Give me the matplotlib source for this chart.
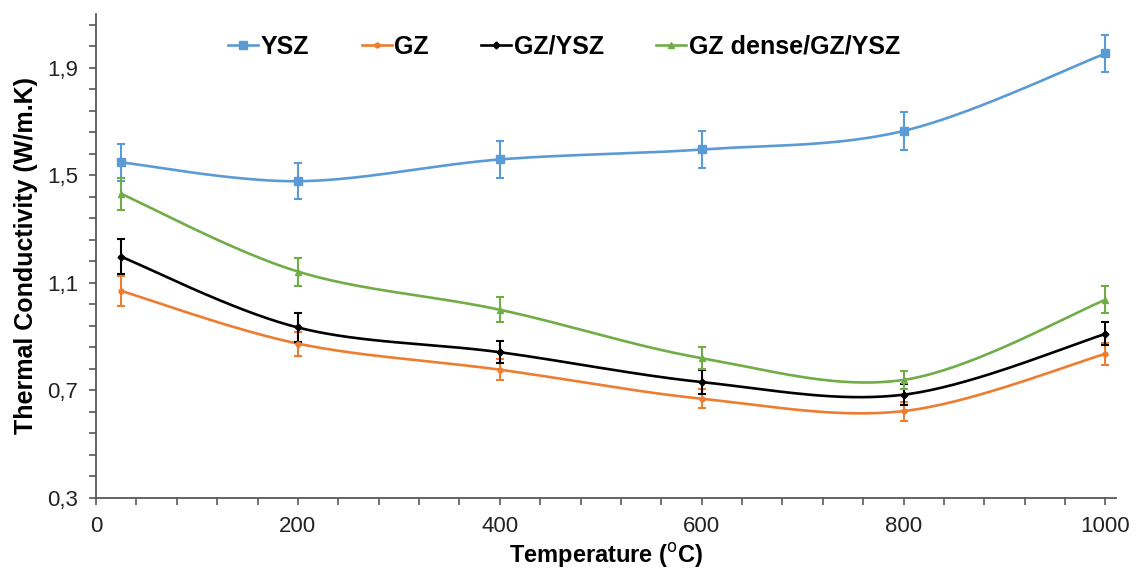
import numpy as np
import matplotlib
matplotlib.use("Agg")
import matplotlib.pyplot as plt
from matplotlib.ticker import FuncFormatter, MultipleLocator

plt.rcParams["font.family"] = ["Liberation Sans", "DejaVu Sans"]

temps = [25, 200, 400, 600, 800, 1000]

ysz = [1.548, 1.478, 1.559, 1.596, 1.665, 1.953]
ysz_err = [0.068, 0.068, 0.068, 0.068, 0.071, 0.068]

gz = [1.070, 0.874, 0.777, 0.669, 0.623, 0.836]
gz_err = [0.055, 0.045, 0.040, 0.035, 0.035, 0.040]

gz_ysz = [1.197, 0.934, 0.842, 0.731, 0.684, 0.910]
gz_ysz_err = [0.065, 0.055, 0.040, 0.045, 0.040, 0.043]

gz_dense = [1.431, 1.142, 1.000, 0.820, 0.739, 1.037]
gz_dense_err = [0.060, 0.052, 0.046, 0.040, 0.035, 0.050]


def smooth(x, y, n=40):
    """Excel-style smoothed line: Catmull-Rom through the points as Beziers."""
    x = np.asarray(x, float)
    y = np.asarray(y, float)
    px = np.r_[x[0], x, x[-1]]
    py = np.r_[y[0], y, y[-1]]
    t = np.linspace(0, 1, n)[:, None]
    xs, ys = [], []
    for i in range(1, len(px) - 2):
        p0 = np.array([px[i], py[i]])
        p3 = np.array([px[i + 1], py[i + 1]])
        c1 = p0 + (np.array([px[i + 1], py[i + 1]]) - np.array([px[i - 1], py[i - 1]])) / 6
        c2 = p3 - (np.array([px[i + 2], py[i + 2]]) - np.array([px[i], py[i]])) / 6
        b = ((1 - t) ** 3) * p0 + 3 * ((1 - t) ** 2) * t * c1 + 3 * (1 - t) * t ** 2 * c2 + t ** 3 * p3
        xs.append(b[:, 0])
        ys.append(b[:, 1])
    return np.concatenate(xs), np.concatenate(ys)


series = [
    ("YSZ", ysz, ysz_err, "#5B9BD5", "s", 5.5),
    ("GZ", gz, gz_err, "#ED7D31", "o", 3.5),
    ("GZ/YSZ", gz_ysz, gz_ysz_err, "#000000", "D", 3.5),
    ("GZ dense/GZ/YSZ", gz_dense, gz_dense_err, "#70AD47", "^", 5),
]

fig = plt.figure(figsize=(11.36, 5.75), dpi=100)
ax = fig.add_axes([0.0845, 0.134, 0.8975, 0.8417])

handles = []
for name, vals, err, color, mk, ms in series:
    sx, sy = smooth(temps, vals)
    ax.plot(sx, sy, color=color, linewidth=1.9, zorder=2)
    ax.errorbar(temps, vals, yerr=err, fmt="none", ecolor=color,
                elinewidth=1.5, capsize=3, capthick=1.5, zorder=3)
    ax.plot(temps, vals, linestyle="none", marker=mk, markersize=ms,
            color=color, zorder=4)
    (h,) = ax.plot([], [], color=color, linewidth=1.9, marker=mk, markersize=ms)
    handles.append(h)

ax.set_xlim(0, 1010)
ax.set_ylim(0.3, 2.1)
ax.set_xticks(range(0, 1001, 200))
ax.xaxis.set_minor_locator(MultipleLocator(40))
ax.set_yticks([0.3, 0.7, 1.1, 1.5, 1.9])
ax.set_yticks(np.arange(0.3, 2.09, 0.08), minor=True)
ax.yaxis.set_major_formatter(FuncFormatter(lambda v, p: f"{v:.1f}".replace(".", ",")))

for side in ("top", "right"):
    ax.spines[side].set_visible(False)
for side in ("left", "bottom"):
    ax.spines[side].set_color("#595959")
    ax.spines[side].set_linewidth(1.3)
ax.tick_params(which="both", direction="out", length=5, width=1.2, color="#595959")
ax.tick_params(which="major", labelsize=16, labelcolor="#222222", pad=8)

ax.set_xlabel(r"Temperature ($^{\mathrm{o}}$C)", fontsize=17, fontweight="bold", labelpad=3)
ax.set_ylabel("Thermal Conductivity (W/m.K)", fontsize=18, fontweight="bold", labelpad=6)

leg = ax.legend(handles, [s[0] for s in series], loc="center left",
                bbox_to_anchor=(228 / 1136, 1 - 47 / 575), bbox_transform=fig.transFigure,
                ncol=4, frameon=False, borderpad=0, borderaxespad=0,
                handlelength=1.2, handletextpad=0.1, columnspacing=2.1,
                prop={"size": 18, "weight": "bold"})

fig.savefig("out.png", dpi=100)
